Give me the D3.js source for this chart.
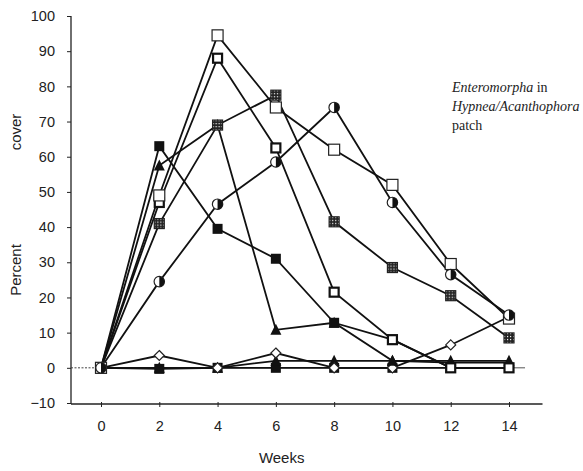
<!DOCTYPE html>
<html>
<head>
<meta charset="utf-8">
<script src="https://cdn.jsdelivr.net/npm/d3@7"></script>
<style>
    body { margin: 0; background: #fff; }
    text { font-family: "Liberation Sans", Arial, sans-serif; fill: #222; }
    .note { font-family: "Liberation Serif", "Times New Roman", serif; font-size: 14px; }
</style>
</head>
<body>
<script>
const w = 583;
const h = 471;

const weeks = [0, 2, 4, 6, 8, 10, 12, 14];
const yTicks = [-10, 0, 10, 20, 30, 40, 50, 60, 70, 80, 90, 100];

// one array per plot
const openSquare  = [0, 49, 94.5, 74, 62, 52, 29.5, 14];
const boxSquare   = [0, 47, 88, 62.5, 21.5, 8, 0, 0];
const halfCircle  = [0, 24.5, 46.5, 58.5, 74, 47, 26.5, 15];
const hatchSquare = [0, 41, 69, 77.5, 41.5, 28.5, 20.5, 8.5];
const filledSquare = [0, 63, 39.5, 31, 12.8, 8, 0, 0];
const triangle    = [0, 57.5, 69, 10.8, 12.8, 2, 1.5, 1.5];
const openDiamond = [0, 3.5, 0, 4.2, 0, 0, 6.5, 14.5];
const lowTriangle = [0, 0, 0, 2, 2, 2, 2, 2];
const lowSquare   = [0, -0.3, 0, 0, 0, 0, 0, 0];

const series = [
    { values: lowSquare, marker: "fsquare" },
    { values: lowTriangle, marker: "triangle" },
    { values: openDiamond, marker: "diamond" },
    { values: triangle, marker: "triangle" },
    { values: filledSquare, marker: "fsquare" },
    { values: hatchSquare, marker: "hatch" },
    { values: boxSquare, marker: "box" },
    { values: openSquare, marker: "osquare" },
    { values: halfCircle, marker: "half" },
];

const svg = d3.select("body")
    .append("svg")
    .attr("width", w)
    .attr("height", h);

const defs = svg.append("defs");
const pat = defs.append("pattern")
    .attr("id", "hatch")
    .attr("patternUnits", "userSpaceOnUse")
    .attr("width", 3)
    .attr("height", 3);
pat.append("rect").attr("width", 3).attr("height", 3).attr("fill", "#222");
pat.append("rect").attr("x", 1).attr("y", 1).attr("width", 1.2).attr("height", 1.2).attr("fill", "#fff");

const xScale = d3.scaleLinear().domain([0, 14]).range([101, 509]);
const yScale = d3.scaleLinear().domain([-10, 100]).range([403, 16]);

// axes
const yAxis = d3.axisLeft(yScale)
    .tickValues(yTicks)
    .tickSize(4)
    .tickSizeOuter(0)
    .tickPadding(12);

const gy = svg.append("g")
    .attr("transform", "translate(71,0)")
    .call(yAxis);
gy.select(".domain").remove();
gy.selectAll("text").style("font-size", "14.5px");
gy.selectAll("line").attr("stroke", "#222");

const xAxis = d3.axisBottom(xScale)
    .tickValues(weeks)
    .tickSize(4)
    .tickPadding(13);

const gx = svg.append("g")
    .attr("transform", "translate(0," + (yScale(-10) + 1) + ")")
    .call(xAxis);
gx.select(".domain").remove();
gx.selectAll("text").style("font-size", "14.5px");
gx.selectAll("line").attr("stroke", "#222").attr("y1", -2).attr("y2", 3);

svg.append("line")
    .attr("x1", 71).attr("x2", 71)
    .attr("y1", yScale(100)).attr("y2", yScale(-10) + 1)
    .attr("stroke", "#222").attr("stroke-width", 1.3);

svg.append("line")
    .attr("x1", 71).attr("x2", xScale(15.15))
    .attr("y1", yScale(-10) + 1).attr("y2", yScale(-10) + 1)
    .attr("stroke", "#222").attr("stroke-width", 1.3);

// zero line, dotted up to week 0
svg.append("line")
    .attr("x1", 71).attr("x2", xScale(0))
    .attr("y1", yScale(0)).attr("y2", yScale(0))
    .attr("stroke", "#444").attr("stroke-width", 1)
    .attr("stroke-dasharray", "2,1.5");
svg.append("line")
    .attr("x1", xScale(0)).attr("x2", xScale(14.55))
    .attr("y1", yScale(0)).attr("y2", yScale(0))
    .attr("stroke", "#555").attr("stroke-width", 1);

// axis titles
svg.append("text")
    .attr("x", xScale(6.2))
    .attr("y", 463)
    .attr("text-anchor", "middle")
    .style("font-size", "15px")
    .text("Weeks");

svg.append("text")
    .attr("transform", "translate(21,270) rotate(-90)")
    .attr("text-anchor", "middle")
    .style("font-size", "15px")
    .text("Percent");

svg.append("text")
    .attr("transform", "translate(21,132) rotate(-90)")
    .attr("text-anchor", "middle")
    .style("font-size", "15px")
    .text("cover");

// note
const note = svg.append("text").attr("class", "note");
note.append("tspan").attr("x", 452).attr("y", 92).style("font-style", "italic").text("Enteromorpha");
note.append("tspan").text(" in");
svg.append("text").attr("class", "note")
    .attr("x", 452).attr("y", 111).style("font-style", "italic").text("Hypnea/Acanthophora");
svg.append("text").attr("class", "note")
    .attr("x", 452).attr("y", 130).text("patch");

// lines
const line = d3.line()
    .x((d, i) => xScale(weeks[i]))
    .y(d => yScale(d));

svg.selectAll(".series")
    .data(series)
    .enter()
    .append("path")
    .attr("class", "series")
    .attr("d", d => line(d.values))
    .attr("fill", "none")
    .attr("stroke", "#111")
    .attr("stroke-width", 1.8);

// markers
function drawMarker(g, type) {
    if (type === "fsquare") {
        g.append("rect").attr("x", -5).attr("y", -5).attr("width", 10).attr("height", 10)
            .attr("fill", "#111");
    } else if (type === "osquare") {
        g.append("rect").attr("x", -5.5).attr("y", -5.5).attr("width", 11).attr("height", 11)
            .attr("fill", "#fff").attr("stroke", "#222").attr("stroke-width", 1.2);
    } else if (type === "box") {
        g.append("rect").attr("x", -4.5).attr("y", -4.5).attr("width", 9).attr("height", 9)
            .attr("fill", "#fff").attr("stroke", "#111").attr("stroke-width", 2.2);
    } else if (type === "hatch") {
        g.append("rect").attr("x", -5).attr("y", -5).attr("width", 10).attr("height", 10)
            .attr("fill", "url(#hatch)").attr("stroke", "#222").attr("stroke-width", 1.2);
    } else if (type === "triangle") {
        g.append("path").attr("d", "M0,-6L5.5,5L-5.5,5Z").attr("fill", "#111");
    } else if (type === "diamond") {
        g.append("path").attr("d", "M0,-5L5,0L0,5L-5,0Z")
            .attr("fill", "#fff").attr("stroke", "#222").attr("stroke-width", 1.2);
    } else if (type === "half") {
        g.append("circle").attr("r", 5.2).attr("fill", "#fff")
            .attr("stroke", "#222").attr("stroke-width", 1.2);
        g.append("path").attr("d", "M0,-5.2A5.2,5.2 0 0,1 0,5.2Z").attr("fill", "#111");
    }
}

series.forEach(s => {
    svg.append("g")
        .selectAll("g")
        .data(s.values)
        .enter()
        .append("g")
        .attr("transform", (d, i) => "translate(" + xScale(weeks[i]) + "," + yScale(d) + ")")
        .each(function () { drawMarker(d3.select(this), s.marker); });
});
</script>
</body>
</html>
